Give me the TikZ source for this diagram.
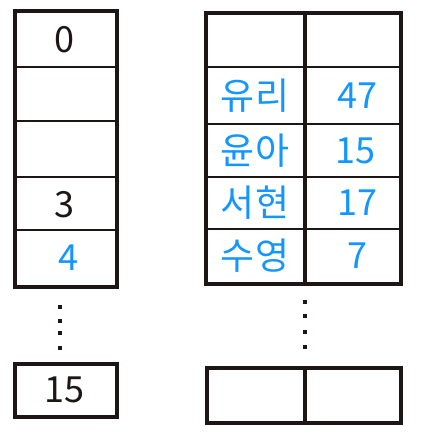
\documentclass[tikz,border=0pt]{standalone}
\usepackage{fontspec}
\newfontfamily\kr{Noto Sans CJK KR}
\definecolor{pen}{RGB}{30,22,20}
\definecolor{hand}{RGB}{20,150,255}
\begin{document}
\begin{tikzpicture}[x=1pt,y=-1pt,
  blk/.style={font=\kr\fontsize{36}{36}\selectfont,text=pen},
  blu/.style={font=\kr\fontsize{36}{36}\selectfont,text=hand},
  kor/.style={font=\kr\fontsize{37}{37}\selectfont,text=hand},
  dot/.style={fill=pen,minimum size=4pt,inner sep=0pt,rectangle}]
\useasboundingbox (0,0) rectangle (432,445);
% left column
\draw[pen,line width=3.2pt] (15,11) rectangle (117,287);
\foreach \y in {67,121,177,230} \draw[pen,line width=2.6pt] (15,\y) -- (117,\y);
\node[blk] (l0) at (64,40) {0};
\node[blk] (l3) at (64,205) {3};
\node[blu] (l4) at (68,258) {4};
\foreach \y/\n in {307/a,321/b,333/c,348/d} \node[dot] (ld\n) at (60,\y) {};
\draw[pen,line width=3.2pt] (15,364) rectangle (117,417);
\node[blk] (l15) at (64,390) {15};
% right table
\draw[pen,line width=3.2pt] (206,13) rectangle (401,284);
\draw[pen,line width=3.2pt] (305,13) -- (305,284);
\foreach \y in {67,124,177,229} \draw[pen,line width=2.6pt] (206,\y) -- (401,\y);
\node[kor] (n1) at (255,96) {유리};
\node[blu] (v1) at (357,96) {47};
\node[kor] (n2) at (255,151) {윤아};
\node[blu] (v2) at (355,151) {15};
\node[kor] (n3) at (255,203) {서현};
\node[blu] (v3) at (357,203) {17};
\node[kor] (n4) at (255,256) {수영};
\node[blu] (v4) at (357,256) {7};
\foreach \y/\n in {302/a,316/b,332/c,347/d} \node[dot] (rd\n) at (305,\y) {};
\draw[pen,line width=3.2pt] (207,368) rectangle (401,423);
\draw[pen,line width=3.2pt] (305,368) -- (305,423);
\end{tikzpicture}
\end{document}
